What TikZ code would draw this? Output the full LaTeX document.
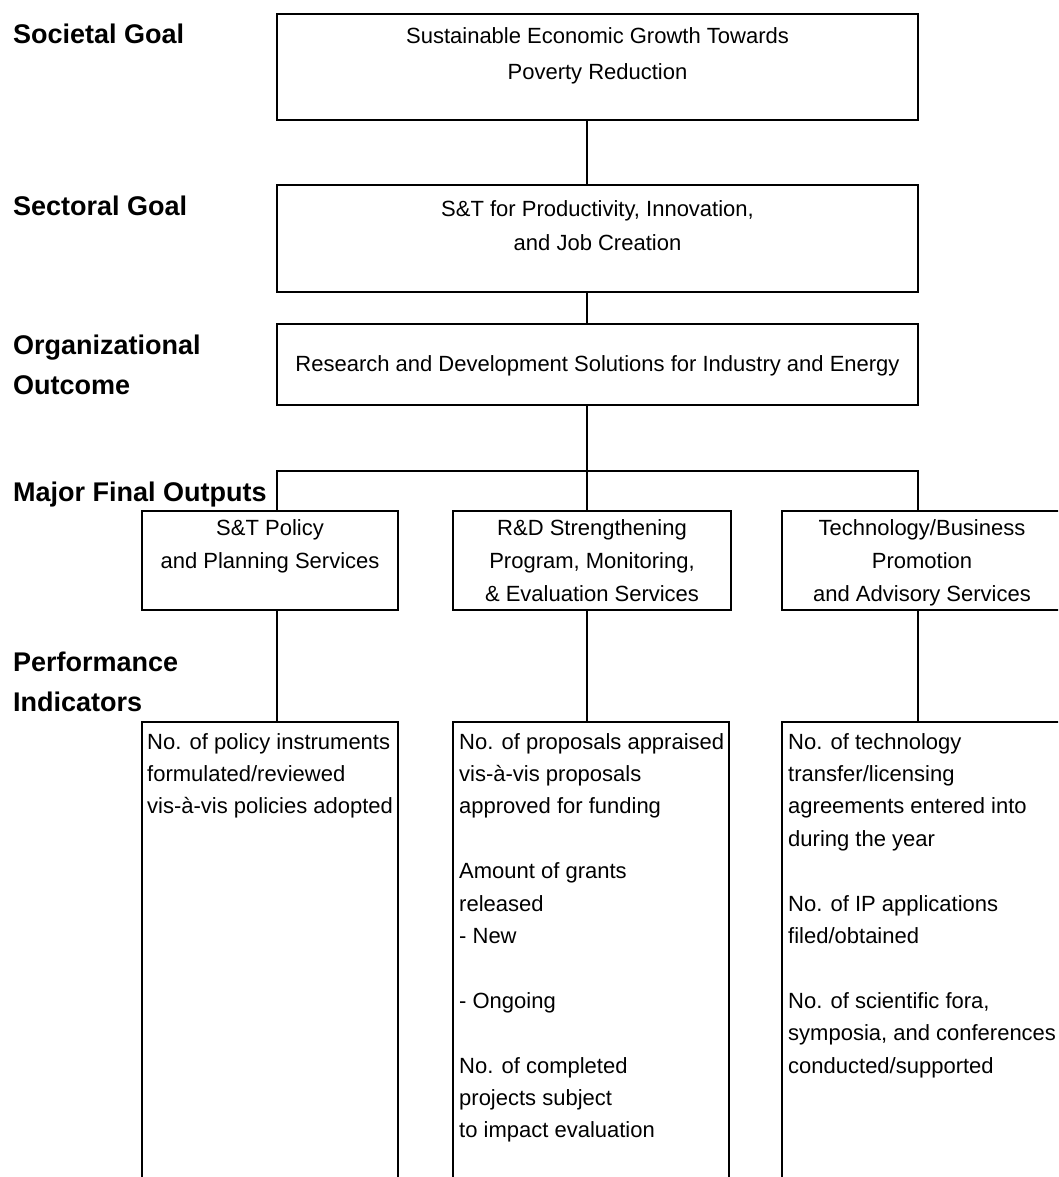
\documentclass[tikz,border=0pt]{standalone}
\usepackage{fontspec}
\setmainfont{Liberation Sans}
\begin{document}
\begin{tikzpicture}[x=1pt,y=-1pt,
  box/.style={draw, line width=2pt, inner sep=0pt, outer sep=0pt},
  conn/.style={line width=2pt},
  txt/.style={font=\fontsize{22}{26}\selectfont, inner sep=0pt, anchor=base},
  itxt/.style={font=\fontsize{22}{26}\selectfont, inner sep=0pt, anchor=base west},
  lbl/.style={font=\fontsize{27}{32}\selectfont\bfseries, inner sep=0pt, anchor=base west}]
\useasboundingbox (0,0) rectangle (1058,1177);
\clip (0,0) rectangle (1058,1177);

% boxes
\node[box, minimum width=641pt, minimum height=106pt] (soc) at (597.5,67) {};
\node[box, minimum width=641pt, minimum height=107pt] (sec) at (597.5,238.5) {};
\node[box, minimum width=641pt, minimum height=81pt]  (org) at (597.5,364.5) {};
\node[box, minimum width=256pt, minimum height=99pt] (mfo1) at (270,560.5) {};
\node[box, minimum width=278pt, minimum height=99pt] (mfo2) at (592,560.5) {};
\node[box, minimum width=280pt, minimum height=99pt] (mfo3) at (922,560.5) {};
\node[box, minimum width=256pt, minimum height=478pt] (ind1) at (270,961) {};
\node[box, minimum width=276pt, minimum height=478pt] (ind2) at (591,961) {};
\node[box, minimum width=280pt, minimum height=478pt] (ind3) at (922,961) {};

% connector helper coordinates
\coordinate (cx) at (587,471);
\coordinate (bl) at (277,471);
\coordinate (br) at (918,471);

\draw[conn] (soc.south -| cx) -- (sec.north -| cx);
\draw[conn] (sec.south -| cx) -- (org.north -| cx);
\draw[conn] (org.south -| cx) -- (cx);
\draw[conn] (mfo1.north -| bl) -- (bl) -- (br) -- (mfo3.north -| br);
\draw[conn] (cx) -- (mfo2.north -| cx);
\draw[conn] (mfo1.south -| bl) -- (ind1.north -| bl);
\draw[conn] (mfo2.south -| cx) -- (ind2.north -| cx);
\draw[conn] (mfo3.south -| br) -- (ind3.north -| br);

% row labels
\node[lbl] (l1) at (13,44) {Societal Goal};
\node[lbl] (l2) at (13,215) {Sectoral Goal};
\node[lbl] (l3a) at (13,354) {Organizational};
\node[lbl] (l3b) at (13,394) {Outcome};
\node[lbl] (l4) at (13,501) {Major Final Outputs};
\node[lbl] (l5a) at (13,671) {Performance};
\node[lbl] (l5b) at (13,711) {Indicators};

% box texts
\node[txt] (t1a) at (597.5,44) {Sustainable Economic Growth Towards};
\node[txt] (t1b) at (597.5,80) {Poverty Reduction};
\node[txt] (t2a) at (597.5,216) {S\&T for Productivity, Innovation,};
\node[txt] (t2b) at (597.5,250) {and Job Creation};
\node[txt] (t3) at (597.5,371) {Research and Development Solutions for Industry and Energy};

\node[txt] (m1a) at (270,535) {S\&T Policy};
\node[txt] (m1b) at (270,568) {and Planning Services};
\node[txt] (m2a) at (592,535) {R\&D Strengthening};
\node[txt] (m2b) at (592,568) {Program, Monitoring,};
\node[txt] (m2c) at (592,601) {\& Evaluation Services};
\node[txt] (m3a) at (922,535) {Technology/Business};
\node[txt] (m3b) at (922,568) {Promotion};
\node[txt] (m3c) at (922,601) {and Advisory Services};

% indicator texts
\node[itxt] (a0) at (147,749) {No. of policy instruments};
\node[itxt] (a1) at (147,781.4) {formulated/reviewed};
\node[itxt] (a2) at (147,813.8) {vis-à-vis policies adopted};

\node[itxt] (b0) at (459,749) {No. of proposals appraised};
\node[itxt] (b1) at (459,781.4) {vis-à-vis proposals};
\node[itxt] (b2) at (459,813.8) {approved for funding};
\node[itxt] (b4) at (459,878.6) {Amount of grants};
\node[itxt] (b5) at (459,911) {released};
\node[itxt] (b6) at (459,943.4) {- New};
\node[itxt] (b8) at (459,1008.2) {- Ongoing};
\node[itxt] (b10) at (459,1073) {No. of completed};
\node[itxt] (b11) at (459,1105.4) {projects subject};
\node[itxt] (b12) at (459,1137.8) {to impact evaluation};

\node[itxt] (c0) at (788,749) {No. of technology};
\node[itxt] (c1) at (788,781.4) {transfer/licensing};
\node[itxt] (c2) at (788,813.8) {agreements entered into};
\node[itxt] (c3) at (788,846.2) {during the year};
\node[itxt] (c5) at (788,911) {No. of IP applications};
\node[itxt] (c6) at (788,943.4) {filed/obtained};
\node[itxt] (c8) at (788,1008.2) {No. of scientific fora,};
\node[itxt] (c9) at (788,1040.6) {symposia, and conferences};
\node[itxt] (c10) at (788,1073) {conducted/supported};
\end{tikzpicture}
\end{document}
